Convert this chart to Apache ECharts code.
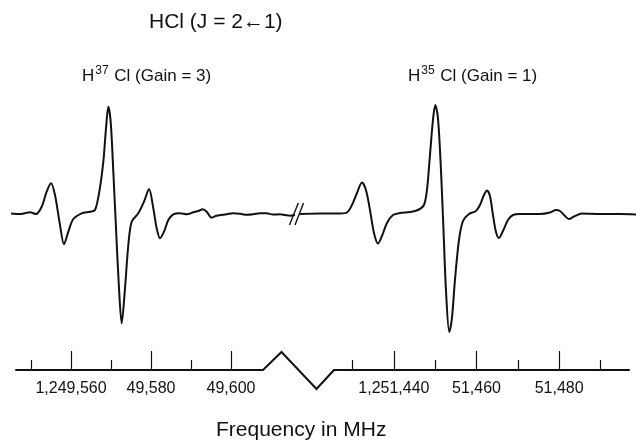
<!DOCTYPE html>
<html>
<head>
<meta charset="utf-8">
<script src="https://cdn.jsdelivr.net/npm/echarts@6/dist/echarts.min.js"></script>
<style>
	html, body { margin: 0; padding: 0; background: #fff; }
	#main { width: 636px; height: 444px; }
</style>
</head>
<body>
<div id="main"></div>
<script>
var FONT = "'Liberation Sans', Arial, sans-serif";
var INK = '#111';

// H37Cl trace (gain 3), frequency in MHz / signal in arbitrary units
var leftFreq = [1249545.0, 1249547.25, 1249548.5, 1249549.75, 1249551.25, 1249552.67, 1249553.92, 1249555.0,
	1249556.0, 1249557.25, 1249558.25, 1249559.33, 1249560.58, 1249562.67, 1249564.75, 1249566.0,
	1249567.08, 1249568.08, 1249568.75, 1249569.33, 1249569.92, 1249570.58, 1249571.25, 1249572.0,
	1249572.67, 1249573.5, 1249574.33, 1249575.17, 1249576.83, 1249578.25, 1249579.5, 1249580.58,
	1249581.42, 1249582.25, 1249583.25, 1249584.33, 1249585.58, 1249587.25, 1249588.92, 1249590.58,
	1249591.83, 1249592.92, 1249593.92, 1249595.17, 1249596.42, 1249598.92, 1249600.5, 1249602.25,
	1249603.9, 1249605.58, 1249607.2, 1249608.92, 1249610.5, 1249612.25, 1249613.5, 1249614.75, 1249616.0];
var leftSignal = [0.5, 0, 0.8, 1.7, 0, 7.3, 22.3, 30.7,
	19, -11, -30.3, -17.7, -5, 0.7, 2.3, 4,
	22.3, 52.3, 85.7, 107.3, 92.3, 42.3, -14.3, -74.3,
	-109.3, -74.3, -31, -7.7, 0.7, 12.3, 25, 5.7,
	-14.3, -24.3, -17.7, -6, -0.3, 0.7, -0.3, 1.7,
	3, 4.7, 2.3, -3.7, -1.7, -0.3, 0.8, 0.3,
	-0.8, -0.3, 0.8, 0.7, -0.5, -0.3, -1, -1.7, -1];

// H35Cl trace (gain 1)
var rightFreq = [1251417.25, 1251422.08, 1251426.92, 1251428.62, 1251429.83, 1251431.04, 1251432.25, 1251433.22,
	1251434.19, 1251435.16, 1251436.13, 1251437.09, 1251438.31, 1251439.76, 1251441.45, 1251443.87,
	1251445.81, 1251447.26, 1251447.99, 1251448.72, 1251449.44, 1251450.0, 1251450.65, 1251451.38,
	1251451.99, 1251452.59, 1251453.39, 1251454.04, 1251454.77, 1251455.74, 1251456.71, 1251458.16,
	1251459.85, 1251460.82, 1251461.79, 1251462.52, 1251463.24, 1251463.97, 1251464.7, 1251465.42,
	1251466.39, 1251467.6, 1251468.81, 1251470.51, 1251475.35, 1251477.77, 1251479.23, 1251480.19,
	1251481.4, 1251482.37, 1251483.58, 1251485.52, 1251489.88, 1251494.72, 1251498.6];
var rightSignal = [0, 0.5, 0.5, 1.5, 9, 21, 31.5, 24,
	4, -19, -29.5, -22, -9, -1, 1, 2,
	4, 9, 24, 59, 94, 109, 96, 44,
	-16, -76, -118, -104, -66, -26, -7, 0,
	3, 9, 19, 23.5, 18, -1, -18, -24,
	-17, -6, -1, 0, 0, 1.5, 4, 3,
	-2, -5, -2.5, 0.5, 0, 0, -0.5];

// axis ticks
var leftMajor = [1249560, 1249580, 1249600];
var leftMinor = [1249550, 1249570, 1249590];
var leftTickLabels = ['1,249,560', '49,580', '49,600'];
var rightMajor = [1251440, 1251460, 1251480];
var rightMinor = [1251430, 1251450, 1251470, 1251490];
var rightTickLabels = ['1,251,440', '51,460', '51,480'];

function zip(xs, ys) {
	var out = [];
	for (var i = 0; i < xs.length; i++) {
		out.push([xs[i], ys[i]]);
	}
	return out;
}

function tickLabeler(values, labels) {
	return function(v) {
		var i = values.indexOf(v);
		return i >= 0 ? labels[i] : '';
	};
}

function traceAxis(grid, min, max) {
	return {type: 'value', gridIndex: grid, min: min, max: max, show: false};
}

function majorAxis(grid, min, max, ticks, labels) {
	return {
		type: 'value', gridIndex: grid, position: 'bottom', min: min, max: max,
		axisLine: {show: true, lineStyle: {color: INK, width: 2}},
		axisTick: {show: true, inside: true, length: 19, customValues: ticks, lineStyle: {color: INK, width: 1.2}},
		axisLabel: {show: true, customValues: ticks, formatter: tickLabeler(ticks, labels), margin: 11,
			fontFamily: FONT, fontSize: 16, color: INK},
		splitLine: {show: false}
	};
}

function minorAxis(grid, min, max, ticks) {
	return {
		type: 'value', gridIndex: grid, position: 'bottom', min: min, max: max,
		axisLine: {show: false},
		axisTick: {show: true, inside: true, length: 10, customValues: ticks, lineStyle: {color: INK, width: 1.2}},
		axisLabel: {show: false},
		splitLine: {show: false}
	};
}

function hiddenY(grid, min, max) {
	return {type: 'value', gridIndex: grid, min: min, max: max, show: false};
}

function trace(idx, data) {
	return {
		type: 'line', xAxisIndex: idx, yAxisIndex: idx, data: data,
		showSymbol: false, smooth: 0.3, silent: true,
		lineStyle: {color: INK, width: 2}
	};
}

var subRich = {
	b: {fontFamily: FONT, fontSize: 17, fontWeight: 'normal', color: INK, verticalAlign: 'bottom', lineHeight: 22},
	s: {fontFamily: FONT, fontSize: 12, fontWeight: 'normal', color: INK, verticalAlign: 'bottom', lineHeight: 22,
		padding: [0, 1, 8, 1]}
};

var chart = echarts.init(document.getElementById('main'));
var option = {
	animation: false,
	backgroundColor: '#fff',
	title: [
		{text: 'HCl (J = 2\u21901)', left: 149, top: 12, padding: 0,
			textStyle: {fontFamily: FONT, fontSize: 21, fontWeight: 'normal', color: INK}},
		{text: '{b|H}{s|37}{b| Cl (Gain = 3)}', left: 82, top: 63, padding: 0, textStyle: {rich: subRich}},
		{text: '{b|H}{s|35}{b| Cl (Gain = 1)}', left: 408, top: 63, padding: 0, textStyle: {rich: subRich}},
		{text: 'Frequency in MHz', left: 216, top: 420, padding: 0,
			textStyle: {fontFamily: FONT, fontSize: 21, fontWeight: 'normal', color: INK}}
	],
	grid: [
		{left: 11, top: 100, width: 284, height: 240},
		{left: 300, top: 100, width: 336, height: 240},
		{left: 16, top: 369, width: 247, height: 1},
		{left: 334, top: 369, width: 295, height: 1}
	],
	xAxis: [
		traceAxis(0, 1249545, 1249616),
		traceAxis(1, 1251417.25, 1251498.6),
		majorAxis(2, 1249546.25, 1249608, leftMajor, leftTickLabels),
		minorAxis(2, 1249546.25, 1249608, leftMinor),
		majorAxis(3, 1251425.5, 1251496.9, rightMajor, rightTickLabels),
		minorAxis(3, 1251425.5, 1251496.9, rightMinor)
	],
	yAxis: [
		hiddenY(0, -126, 114),
		hiddenY(1, -126, 114),
		hiddenY(2, 0, 1),
		hiddenY(3, 0, 1)
	],
	series: [
		trace(0, zip(leftFreq, leftSignal)),
		trace(1, zip(rightFreq, rightSignal))
	],
	graphic: [
		// axis break zigzag
		{type: 'polyline', shape: {points: [[263, 370], [281.5, 352], [316.5, 389], [334, 370]]},
			style: {stroke: INK, lineWidth: 2, fill: null}},
		// trace break marks
		{type: 'line', shape: {x1: 289.5, y1: 225, x2: 298.3, y2: 203}, style: {stroke: INK, lineWidth: 1.4}},
		{type: 'line', shape: {x1: 295, y1: 225, x2: 303.5, y2: 203}, style: {stroke: INK, lineWidth: 1.4}}
	]
};
chart.setOption(option);
</script>
</body>
</html>
